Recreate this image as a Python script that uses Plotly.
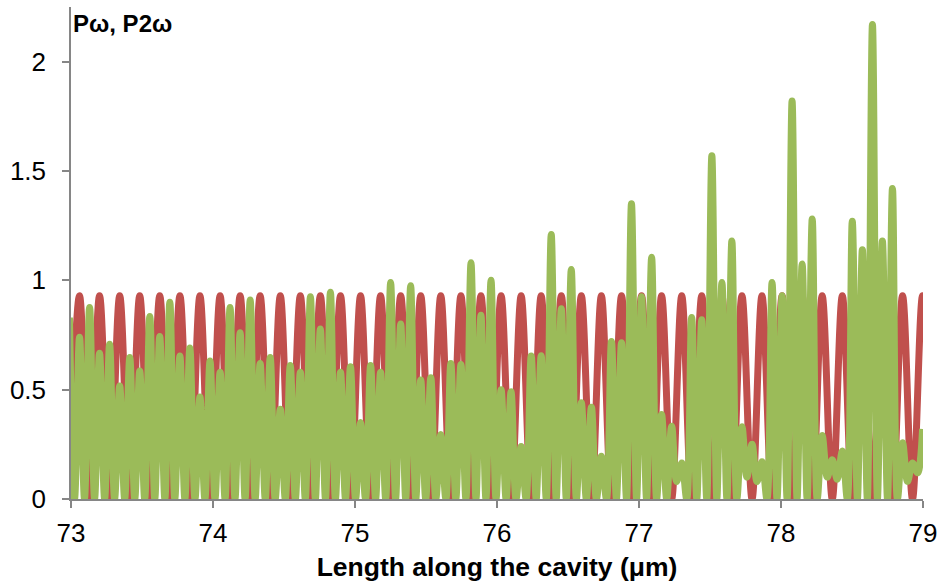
import plotly.graph_objects as go

# ---------------- data ----------------
# Fundamental (P_omega, red): maxima and minima along the cavity
red_peak_x = [73.060, 73.201, 73.343, 73.484, 73.625, 73.767, 73.908, 74.050, 74.191, 74.332,
              74.474, 74.615, 74.756, 74.898, 75.039, 75.180, 75.322, 75.463, 75.604, 75.746,
              75.887, 76.029, 76.170, 76.311, 76.453, 76.594, 76.735, 76.877, 77.018, 77.159,
              77.301, 77.442, 77.584, 77.725, 77.866, 78.008, 78.149, 78.290, 78.432, 78.573,
              78.714, 78.856, 78.997]
red_peak_y = [0.93, 0.93, 0.93, 0.93, 0.93, 0.93, 0.93, 0.93, 0.93, 0.93,
              0.93, 0.93, 0.93, 0.93, 0.93, 0.93, 0.93, 0.93, 0.93, 0.93,
              0.93, 0.93, 0.93, 0.93, 0.93, 0.93, 0.93, 0.93, 0.93, 0.93,
              0.93, 0.93, 0.93, 0.93, 0.93, 0.93, 0.93, 0.93, 0.93, 0.93,
              0.93, 0.93, 0.93]
red_trough_x = [72.989, 73.131, 73.272, 73.414, 73.555, 73.696, 73.837, 73.979, 74.120, 74.262,
                74.403, 74.544, 74.686, 74.827, 74.968, 75.110, 75.251, 75.392, 75.534, 75.675,
                75.817, 75.958, 76.099, 76.241, 76.382, 76.523, 76.665, 76.806, 76.947, 77.089,
                77.230, 77.371, 77.513, 77.654, 77.796, 77.937, 78.078, 78.220, 78.361, 78.502,
                78.644, 78.785, 78.926, 79.068]
red_trough_y = [0.0, 0.0, 0.0, 0.0, 0.0, 0.0, 0.0, 0.0, 0.0, 0.0,
                0.0, 0.0, 0.0, 0.0, 0.0, 0.0, 0.0, 0.0, 0.0, 0.0,
                0.0, 0.0, 0.0, 0.0, 0.0, 0.0, 0.0, 0.0, 0.0, 0.0,
                0.0, 0.0, 0.0, 0.0, 0.0, 0.0, 0.0, 0.0, 0.0, 0.0,
                0.0, 0.0, 0.0, 0.0]

# Second harmonic (P_2omega, green): maxima and minima along the cavity
green_peak_x = [72.989, 73.060, 73.131, 73.201, 73.272, 73.343, 73.414, 73.484, 73.555, 73.625,
                73.696, 73.767, 73.837, 73.908, 73.979, 74.050, 74.120, 74.191, 74.262, 74.332,
                74.403, 74.474, 74.544, 74.615, 74.686, 74.756, 74.827, 74.898, 74.968, 75.039,
                75.110, 75.180, 75.251, 75.322, 75.392, 75.463, 75.534, 75.604, 75.675, 75.746,
                75.817, 75.887, 75.958, 76.029, 76.099, 76.170, 76.241, 76.311, 76.382, 76.453,
                76.523, 76.594, 76.665, 76.735, 76.806, 76.877, 76.947, 77.018, 77.089, 77.159,
                77.230, 77.301, 77.371, 77.442, 77.513, 77.584, 77.654, 77.725, 77.796, 77.866,
                77.937, 78.008, 78.078, 78.149, 78.220, 78.290, 78.361, 78.432, 78.502, 78.573,
                78.644, 78.714, 78.785, 78.856, 78.926, 78.997]
green_peak_y = [0.83, 0.74, 0.876, 0.667, 0.708,
                0.517, 0.647, 0.585, 0.835, 0.743, 0.90, 0.654, 0.69,
                0.466, 0.631, 0.58, 0.876, 0.76, 0.91, 0.62, 0.647,
                0.41, 0.61, 0.58, 0.925, 0.777, 0.945, 0.58, 0.605,
                0.35, 0.61, 0.58, 0.99, 0.80, 0.975, 0.544, 0.555,
                0.295, 0.62, 0.615, 1.08, 0.84, 1.00, 0.50, 0.49,
                0.24, 0.654, 0.655, 1.21, 0.87, 1.05, 0.44, 0.42,
                0.195, 0.72, 0.715, 1.35, 0.925, 1.105, 0.387, 0.333,
                0.165, 0.83, 0.82, 1.57, 0.99, 1.18, 0.33, 0.25,
                0.17, 0.99, 0.93, 1.82, 1.075, 1.28, 0.29, 0.18,
                0.22, 1.27, 1.14, 2.17, 1.18, 1.42, 0.257, 0.165,
                0.32]
green_trough_x = [73.025, 73.095, 73.166, 73.237, 73.307, 73.378, 73.449, 73.519, 73.590, 73.661,
                  73.731, 73.802, 73.873, 73.943, 74.014, 74.085, 74.155, 74.226, 74.297, 74.368,
                  74.438, 74.509, 74.580, 74.650, 74.721, 74.792, 74.862, 74.933, 75.004, 75.074,
                  75.145, 75.216, 75.286, 75.357, 75.428, 75.498, 75.569, 75.640, 75.710, 75.781,
                  75.852, 75.922, 75.993, 76.064, 76.134, 76.205, 76.276, 76.347, 76.417, 76.488,
                  76.559, 76.629, 76.700, 76.771, 76.841, 76.912, 76.983, 77.053, 77.124, 77.195,
                  77.265, 77.336, 77.407, 77.477, 77.548, 77.619, 77.689, 77.760, 77.831, 77.901,
                  77.972, 78.043, 78.113, 78.184, 78.255, 78.326, 78.396, 78.467, 78.538, 78.608,
                  78.679, 78.750, 78.820, 78.891, 78.962]
green_trough_y = [0.0, 0.0, 0.0, 0.0, 0.0, 0.0, 0.0, 0.0, 0.0, 0.0,
                  0.0, 0.0, 0.0, 0.0, 0.0, 0.0, 0.0, 0.0, 0.0, 0.0,
                  0.0, 0.0, 0.0, 0.0, 0.0, 0.0, 0.0, 0.0, 0.0, 0.0,
                  0.0, 0.0, 0.0, 0.0, 0.0, 0.0, 0.0, 0.0, 0.0, 0.0,
                  0.0, 0.0, 0.0, 0.0, 0.0, 0.0, 0.0, 0.0, 0.0, 0.0,
                  0.0, 0.0, 0.0, 0.0, 0.0, 0.0, 0.0, 0.0, 0.0, 0.0,
                  0.08, 0.0, 0.0, 0.0, 0.0, 0.0, 0.0, 0.10, 0.08, 0.0,
                  0.0, 0.0, 0.0, 0.0, 0.0, 0.10, 0.09, 0.0, 0.0, 0.0,
                  0.0, 0.0, 0.0, 0.08, 0.12]

x_tick_vals = [73, 74, 75, 76, 77, 78, 79]
x_tick_text = ["73", "74", "75", "76", "77", "78", "79"]
y_tick_vals = [0, 0.5, 1, 1.5, 2]
y_tick_text = ["0", "0.5", "1", "1.5", "2"]

x_title = "Length along the cavity (μm)"
y_title = "Pω, P2ω"


def merge(xa, ya, xb, yb):
    pts = sorted(zip(list(xa) + list(xb), list(ya) + list(yb)))
    return [p[0] for p in pts], [p[1] for p in pts]


red_x, red_y = merge(red_peak_x, red_peak_y, red_trough_x, red_trough_y)
green_x, green_y = merge(green_peak_x, green_peak_y, green_trough_x, green_trough_y)

RED = "#C0504D"
GREEN = "#9BBB59"
AXIS = "#868686"
FONT = "Liberation Sans, Arial, sans-serif"

fig = go.Figure()
fig.add_trace(go.Scatter(x=red_x, y=red_y, mode="lines",
                         line=dict(color=RED, width=7, shape="spline", smoothing=1),
                         name="Pω", hoverinfo="skip"))
fig.add_trace(go.Scatter(x=green_x, y=green_y, mode="lines",
                         line=dict(color=GREEN, width=7, shape="spline", smoothing=1),
                         name="P2ω", hoverinfo="skip"))

fig.update_layout(
    width=943, height=586,
    margin=dict(l=71, r=20, t=7, b=87),
    paper_bgcolor="white", plot_bgcolor="white",
    showlegend=False,
    font=dict(family=FONT, size=26, color="black"),
    annotations=[dict(text="<b>" + y_title + "</b>", xref="paper", yref="paper",
                      x=0, y=1, xanchor="left", yanchor="top", xshift=0, yshift=-1,
                      showarrow=False, font=dict(family=FONT, size=24, color="black"))],
)
fig.update_xaxes(range=[73, 79], tickvals=x_tick_vals, ticktext=x_tick_text,
                 showline=True, linecolor=AXIS, linewidth=1.5, mirror=False,
                 ticks="outside", ticklen=7, tickwidth=1.5, tickcolor=AXIS,
                 showgrid=False, zeroline=False, ticklabelstandoff=3,
                 tickfont=dict(family=FONT, size=26, color="black"),
                 title=dict(text="<b>" + x_title + "</b>", standoff=10,
                            font=dict(family=FONT, size=26.5, color="black")))
fig.update_yaxes(range=[0, 2.25], tickvals=y_tick_vals, ticktext=y_tick_text,
                 showline=True, linecolor=AXIS, linewidth=1.5,
                 ticks="outside", ticklen=7, tickwidth=1.5, tickcolor=AXIS,
                 showgrid=False, zeroline=False, ticklabelstandoff=11,
                 tickfont=dict(family=FONT, size=26, color="black"))

fig.write_html("out.html")
